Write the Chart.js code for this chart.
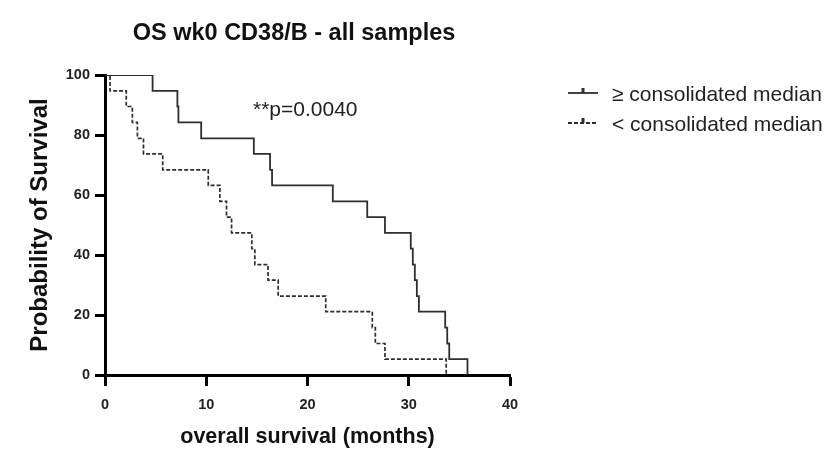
<!DOCTYPE html>
<html>
<head>
<meta charset="utf-8">
<title>OS wk0 CD38/B - all samples</title>
<script src="https://cdn.jsdelivr.net/npm/chart.js@4.4.0/dist/chart.umd.min.js"></script>
<style>
    html, body { margin: 0; padding: 0; background: #fff; }
    #km-canvas { display: block; }
</style>
</head>
<body>
<canvas id="km-canvas" width="837" height="451"></canvas>
<script>
const chartTitle = 'OS wk0 CD38/B - all samples';
const xTitle = 'overall survival (months)';
const yTitle = 'Probability of Survival';
const pValueLabel = '**p=0.0040';
const seriesLabels = ['≥ consolidated median', '< consolidated median'];

// Kaplan-Meier steps: months, % surviving after each event
const highTimes = [0, 4.7, 7.15, 7.25, 9.5, 14.7, 16.3, 16.5, 22.5, 25.9, 27.65, 30.2, 30.4, 30.6, 30.8, 31.0, 33.6, 33.8, 34.0, 35.8];
const highSurvival = [100, 94.7, 89.5, 84.2, 78.9, 73.7, 68.4, 63.2, 57.9, 52.6, 47.4, 42.1, 36.8, 31.6, 26.3, 21.1, 15.8, 10.5, 5.3, 0];
const lowTimes = [0, 0.5, 2.1, 2.7, 3.2, 3.8, 5.7, 10.2, 11.35, 12.0, 12.5, 14.5, 14.8, 16.1, 17.1, 21.8, 26.4, 26.7, 27.65, 33.7];
const lowSurvival = [100, 94.7, 89.5, 84.2, 78.9, 73.7, 68.4, 63.2, 57.9, 52.6, 47.4, 42.1, 36.8, 31.6, 26.3, 21.1, 15.8, 10.5, 5.3, 0];

const xTicks = [0, 10, 20, 30, 40];
const yTicks = [0, 20, 40, 60, 80, 100];

const FONT = '"Liberation Sans", Arial, Helvetica, sans-serif';
const LINE_COLOR = '#2e2e2e';

function toPoints(times, values) {
    return times.map((t, i) => ({ x: t, y: values[i] }));
}

// title, p value and the legend are drawn by hand so they sit where the original has them
const overlayPlugin = {
    id: 'overlay',
    afterDraw(chart) {
        const ctx = chart.ctx;
        ctx.save();
        ctx.fillStyle = '#111';
        ctx.textBaseline = 'alphabetic';

        ctx.textAlign = 'center';
        ctx.font = 'bold 23.5px ' + FONT;
        ctx.fillText(chartTitle, 294, 40);

        ctx.textAlign = 'left';
        ctx.font = '21px ' + FONT;
        ctx.fillStyle = '#222';
        ctx.fillText(pValueLabel, 253, 116);

        // legend
        const rows = [{ y: 93, dash: [] }, { y: 123, dash: [4, 2] }];
        rows.forEach((row, i) => {
            ctx.strokeStyle = LINE_COLOR;
            ctx.lineWidth = 1.8;
            ctx.setLineDash(row.dash);
            ctx.beginPath();
            ctx.moveTo(568, row.y);
            ctx.lineTo(598, row.y);
            ctx.stroke();
            ctx.setLineDash([]);
            ctx.fillStyle = LINE_COLOR;
            ctx.fillRect(581.5, row.y - 5, 3, 5);
            ctx.fillStyle = '#222';
            ctx.fillText(seriesLabels[i], 612, row.y + 8);
        });
        ctx.restore();
    }
};

const ctx = document.getElementById('km-canvas').getContext('2d');
const kmChart = new Chart(ctx, {
    type: 'line',
    data: {
        datasets: [{
            label: seriesLabels[0],
            data: toPoints(highTimes, highSurvival),
            borderColor: LINE_COLOR,
            borderWidth: 1.8,
            stepped: 'before',
            pointRadius: 0,
            fill: false
        }, {
            label: seriesLabels[1],
            data: toPoints(lowTimes, lowSurvival),
            borderColor: LINE_COLOR,
            borderWidth: 1.7,
            borderDash: [4, 2],
            stepped: 'before',
            pointRadius: 0,
            fill: false
        }]
    },
    options: {
        responsive: false,
        animation: false,
        layout: { padding: { left: 0, right: 327, top: 75, bottom: 0 } },
        plugins: {
            legend: { display: false },
            title: { display: false },
            tooltip: { enabled: false }
        },
        scales: {
            x: {
                type: 'linear',
                min: 0,
                max: 40,
                afterBuildTicks: s => { s.ticks = xTicks.map(v => ({ value: v })); },
                afterFit: s => { s.height = 76; },
                border: { display: true, color: '#000', width: 3 },
                grid: { drawOnChartArea: false, drawTicks: true, tickLength: 11, tickWidth: 3, tickColor: '#000' },
                ticks: { color: '#222', padding: 10, font: { family: FONT, size: 14.5, weight: 'bold' } },
                title: {
                    display: true,
                    text: xTitle,
                    color: '#111',
                    padding: { top: 0, bottom: 1 },
                    font: { family: FONT, size: 21.5, weight: 'bold' }
                }
            },
            y: {
                min: 0,
                max: 100,
                afterBuildTicks: s => { s.ticks = yTicks.map(v => ({ value: v })); },
                afterFit: s => { s.width = 105; },
                border: { display: true, color: '#000', width: 3 },
                grid: { drawOnChartArea: false, drawTicks: true, tickLength: 10, tickWidth: 3, tickColor: '#000' },
                ticks: { color: '#222', padding: 5, font: { family: FONT, size: 14.5, weight: 'bold' } },
                title: {
                    display: true,
                    text: yTitle,
                    color: '#111',
                    padding: { top: 26, bottom: 0 },
                    font: { family: FONT, size: 24, weight: 'bold' }
                }
            }
        }
    },
    plugins: [overlayPlugin]
});
</script>
</body>
</html>
